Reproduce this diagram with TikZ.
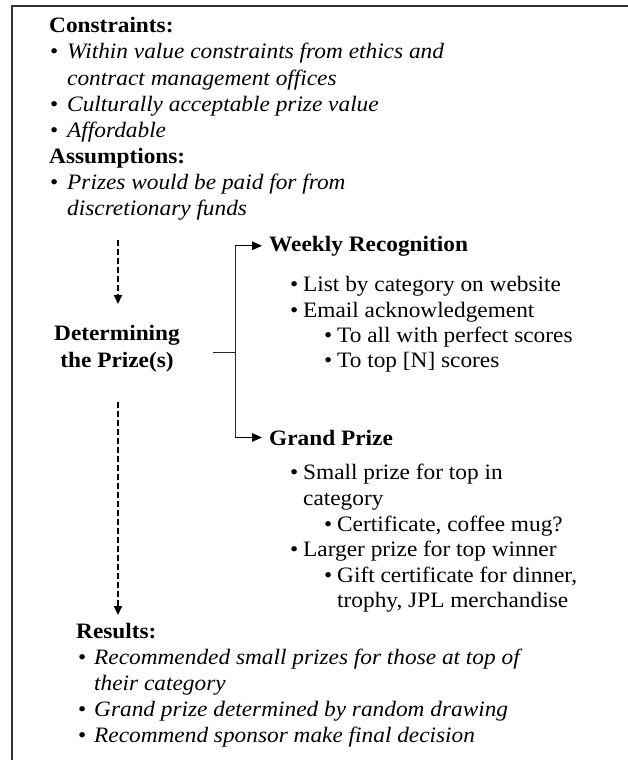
\documentclass[tikz,border=0pt]{standalone}
\usepackage{fontspec}
\setmainfont{Liberation Serif}[FakeStretch=1.06]
\usetikzlibrary{arrows.meta}

\begin{document}
\begin{tikzpicture}[x=1pt,y=-1pt,
  txt/.style={anchor=base west, inner sep=0pt, font=\fontsize{22}{26}\selectfont},
  ctr/.style={anchor=base, inner sep=0pt, font=\fontsize{22}{26}\selectfont\bfseries},
  frameline/.style={line width=1.4pt, draw=black!80},
  branch/.style={line width=1pt, draw=black!85},
  solidarrow/.style={line width=1.4pt, -{Triangle[length=10pt,width=8.5pt]}, shorten >=7pt},
  dasharrow/.style={line width=2pt, dash pattern=on 5.5pt off 3.5pt, -{Triangle[length=9pt,width=8pt]}}
]
\newcommand{\bl}[2]{\makebox[#1][l]{\textbullet}#2}
\useasboundingbox (0,0) rectangle (628,760);

% outer frame (top and left edges)
\draw[frameline] (12,760) |- (628,6);

% constraints and assumptions
\node[txt] (ch)  at (49,33)  {\textbf{Constraints:}};
\node[txt] (c1)  at (50,59)  {\bl{17pt}{\textit{Within value constraints from ethics and}}};
\node[txt] (c1b) at (67,85)  {\textit{contract management offices}};
\node[txt] (c2)  at (50,111) {\bl{17pt}{\textit{Culturally acceptable prize value}}};
\node[txt] (c3)  at (50,137) {\bl{17pt}{\textit{Affordable}}};
\node[txt] (ah)  at (49,163) {\textbf{Assumptions:}};
\node[txt] (a1)  at (50,189) {\bl{17pt}{\textit{Prizes would be paid for from}}};
\node[txt] (a1b) at (67,215) {\textit{discretionary funds}};

% central step
\node[ctr] (det1) at (117,340) {Determining};
\node[ctr] (det2) at (117,367) {the Prize(s)};

\coordinate (d1s) at (118,240);
\coordinate (d1e) at (118,304);
\draw[dasharrow] (d1s) -- (d1e);

\coordinate (d2s) at (118,402);
\coordinate (d2e) at (118,615);
\draw[dasharrow] (d2s) -- (d2e);

% branch to the two prize kinds
\node[txt] (wk) at (269,251) {\textbf{Weekly Recognition}};
\node[txt] (gp) at (269,445) {\textbf{Grand Prize}};

\coordinate (bs) at (213,352);
\coordinate (br) at (235,352);
\draw[branch] (bs) -- (br);
\draw[branch] (br |- wk.west) -- (br |- gp.west);
\draw[solidarrow] (br |- wk.west) -- (wk.west);
\draw[solidarrow] (br |- gp.west) -- (gp.west);

% weekly recognition items
\node[txt] (w1)  at (290,291) {\bl{13pt}{List by category on website}};
\node[txt] (w2)  at (290,317) {\bl{13pt}{Email acknowledgement}};
\node[txt] (w21) at (324,342) {\bl{13pt}{To all with perfect scores}};
\node[txt] (w22) at (324,367) {\bl{13pt}{To top [N] scores}};

% grand prize items
\node[txt] (g1)   at (290,479) {\bl{13pt}{Small prize for top in}};
\node[txt] (g1b)  at (303,505) {category};
\node[txt] (g11)  at (324,531) {\bl{13pt}{Certificate, coffee mug?}};
\node[txt] (g2)   at (290,556) {\bl{13pt}{Larger prize for top winner}};
\node[txt] (g21)  at (324,582) {\bl{13pt}{Gift certificate for dinner,}};
\node[txt] (g21b) at (337,607) {trophy, JPL merchandise};

% results
\node[txt] (rh)  at (76,638) {\textbf{Results:}};
\node[txt] (r1)  at (78,664) {\bl{16pt}{\textit{Recommended small prizes for those at top of}}};
\node[txt] (r1b) at (94,690) {\textit{their category}};
\node[txt] (r2)  at (78,716) {\bl{16pt}{\textit{Grand prize determined by random drawing}}};
\node[txt] (r3)  at (78,742) {\bl{16pt}{\textit{Recommend sponsor make final decision}}};
\end{tikzpicture}
\end{document}
